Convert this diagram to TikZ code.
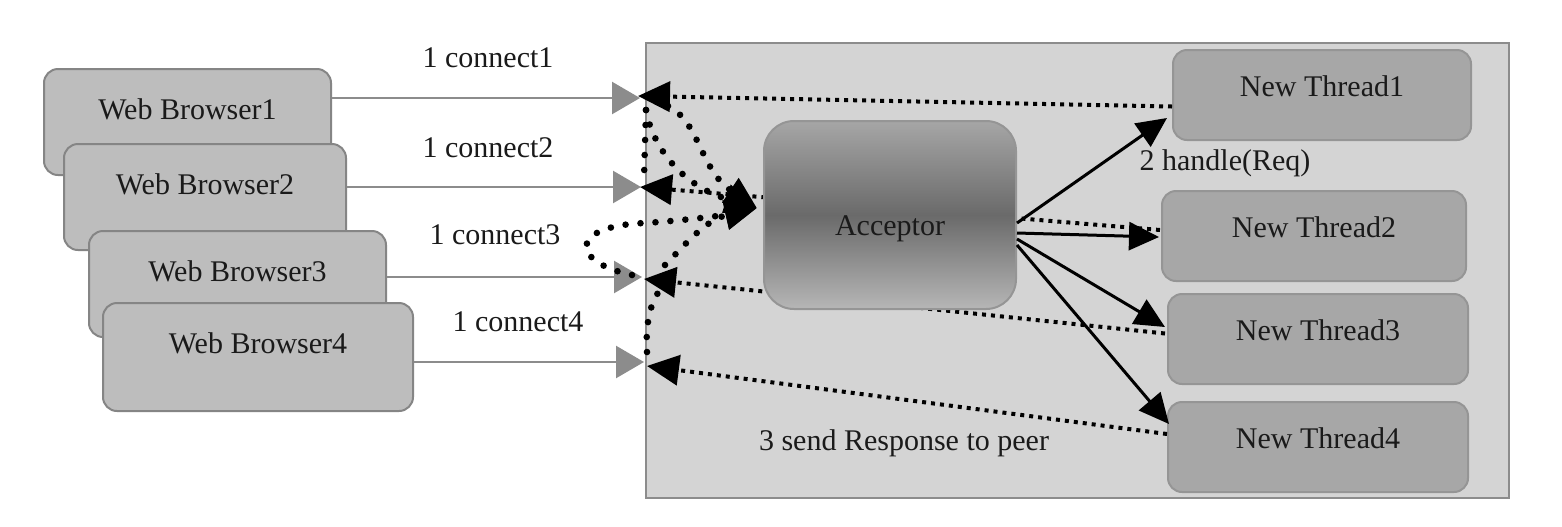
\documentclass[tikz,border=0pt]{standalone}
\usepackage{fontspec}
\setmainfont{Liberation Serif}
\usetikzlibrary{arrows.meta,calc}
\definecolor{srvfill}{HTML}{D4D4D4}
\definecolor{srvline}{HTML}{8C8C8C}
\definecolor{brwfill}{HTML}{BDBDBD}
\definecolor{brwline}{HTML}{858585}
\definecolor{thrfill}{HTML}{A7A7A7}
\definecolor{thrline}{HTML}{959595}
\definecolor{grayarr}{HTML}{8C8C8C}
\definecolor{accTop}{HTML}{A6A6A6}
\definecolor{accMid}{HTML}{6A6A6A}
\definecolor{accBot}{HTML}{B6B6B6}
\definecolor{inktext}{HTML}{1A1A1A}
\begin{document}
\begin{tikzpicture}[x=0.5pt,y=-0.5pt,
  font=\fontsize{15}{18}\selectfont, text=inktext,
  container/.style={draw=srvline, fill=srvfill, line width=1pt, anchor=north west, inner sep=0pt,
    minimum width=431.5pt, minimum height=227.5pt},
  browser/.style={draw=brwline, fill=brwfill, line width=1pt, rounded corners=7pt, anchor=north west,
    inner sep=0pt, text height=25pt, text depth=28pt},
  thread/.style={draw=thrline, fill=thrfill, line width=1pt, rounded corners=7pt, anchor=north west,
    inner sep=0pt, text height=23pt, text depth=22pt},
  acceptor/.style={draw=thrline, line width=1pt, rounded corners=15pt, anchor=north west, inner sep=0pt,
    top color=accTop, bottom color=accBot, middle color=accMid,
    minimum width=126pt, text height=57pt, text depth=37pt},
  lbl/.style={inner sep=0pt},
  grayline/.style={draw=grayarr, line width=1.2pt, -{Triangle[length=14pt,width=16pt]}},
  resp/.style={draw=black, line width=2pt, dash pattern=on 2pt off 2.5pt,
    -{Triangle[length=16pt,width=15pt]}},
  req/.style={draw=black, line width=3.3pt, line cap=round, dash pattern=on 0pt off 7.5pt,
    -{Triangle[length=16pt,width=14pt]}},
  solidarrow/.style={draw=black, line width=1.5pt, -{Triangle[length=15pt,width=14pt]}}
]
\useasboundingbox (0,0) rectangle (1562,526);
\fill[white] (0,0) rectangle (1562,526);

% server container
\node[container] (srv) at (645,42) {};

% browsers
\node[browser, minimum width=143.5pt] (b1) at (43,68) {Web Browser1};
\node[browser, minimum width=141pt] (b2) at (63,143) {Web Browser2};
\node[browser, minimum width=148.5pt] (b3) at (88,230) {Web Browser3};
\node[browser, minimum width=155pt, text depth=29pt] (b4) at (102,302) {Web Browser4};

% threads
\node[thread, minimum width=149pt] (t1) at (1172,49) {New Thread1};
\node[thread, minimum width=152pt] (t2) at (1161,190) {New Thread2};
\node[thread, minimum width=150pt] (t3) at (1167,293) {New Thread3};
\node[thread, minimum width=150pt] (t4) at (1167,401) {New Thread4};

% meeting points on the server edge
\coordinate (p1) at (640,98);
\coordinate (p2) at (641,187);
\coordinate (p3) at (642,277);
\coordinate (p4) at (644,362);
\coordinate (q1) at (638,96);
\coordinate (q2) at (640,187);
\coordinate (q3) at (644,279);
\coordinate (q4) at (647,366);

% responses (dotted, behind the acceptor)
\draw[resp] ([yshift=-5.75pt]t1.west) -- (q1);
\draw[resp] ([xshift=-0.5pt,yshift=3pt]t2.west) -- (q2);
\draw[resp] ([xshift=-1pt,yshift=2.75pt]t3.west) -- (q3);
\draw[resp] ([yshift=6.5pt]t4.west) -- (q4);

% connections from browsers
\draw[grayline] (b1.east |- p1) -- (p1);
\draw[grayline] (b2.east |- p2) -- (p2);
\draw[grayline] (b3.east |- p3) -- (p3);
\draw[grayline] (b4.east |- p4) -- (p4);

% acceptor
\node[acceptor] (acc) at (763,120) {Acceptor};
\coordinate (acctip) at ($(acc.west)+(-6,-7)$);

% handle arrows
\draw[solidarrow] ([yshift=-4pt]acc.east) -- ([xshift=-2.5pt,yshift=-11.5pt]t1.west);
\draw[solidarrow] ([yshift=-9pt]acc.east) -- ([xshift=-1pt,yshift=-0.5pt]t2.west);
\draw[solidarrow] ([yshift=-12pt]acc.east) -- ([xshift=-1pt,yshift=6pt]t3.west);
\draw[solidarrow] ([yshift=-15pt]acc.east) -- ([xshift=1pt,yshift=11.5pt]t4.west);

% requests handed to the acceptor (dotted)
\coordinate (r1a) at (668,106);
\coordinate (r1b) at (646,110);
\coordinate (r3a) at (632,275);
\coordinate (r3b) at (665,265);
\coordinate (v2) at (644,178);
\coordinate (v4) at (647,352);
\coordinate (v3) at (660,290);
\draw[req] (r1a) .. controls (700,122) and (700,170) .. (acctip);
\draw[req] (r1b) .. controls (652,145) and (680,185) .. (acctip);
\draw[req] (r3a) .. controls (570,262) and (568,226) .. (645,223) .. controls (690,220) and (725,215) .. (acctip);
\draw[req] (r3b) .. controls (685,245) and (705,220) .. (acctip);
\draw[req, -] (r1b) -- (v2);
\draw[req, -] (v4) .. controls (645,320) and (652,300) .. (v3);

% labels
\node[lbl] (c1) at (488,58) {1 connect1};
\node[lbl] (c2) at (488,148) {1 connect2};
\node[lbl] (c3) at (495,235) {1 connect3};
\node[lbl] (c4) at (518,322) {1 connect4};
\node[lbl] (hd) at (1225,163) {2 handle(Req)};
\node[lbl] (sr) at (904,443) {3 send Response to peer};
\end{tikzpicture}
\end{document}
